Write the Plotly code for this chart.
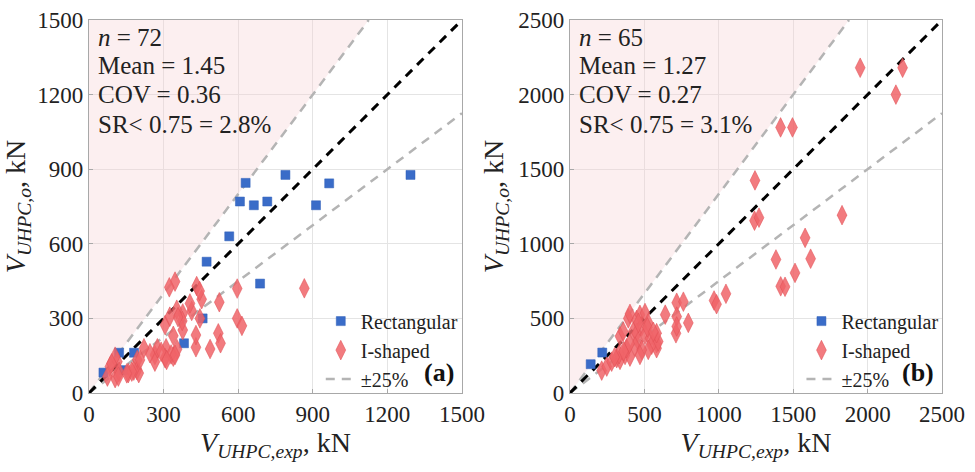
import plotly.graph_objects as go

# ---------------- data ----------------
# Panel (a)
a_rect_x = [58, 121, 181, 138, 382, 457, 473, 564, 688, 607, 663, 717, 630, 790, 913, 966, 1293]
a_rect_y = [82, 162, 162, 92, 200, 300, 528, 630, 440, 770, 755, 770, 845, 877, 755, 843, 877]
a_i_x = [866, 596, 596, 615, 524, 520, 529, 487, 430, 430, 446, 453, 433, 445, 413, 406, 377, 377, 375,
         353, 358, 346, 323, 339, 354, 339, 310, 306, 306, 330, 265, 265, 275, 245, 221, 194, 193, 200,
         180, 158, 114, 105, 84, 105, 74, 121, 172, 152, 118, 91, 205, 346, 325, 312, 290]
a_i_y = [421, 420, 300, 270, 365, 240, 200, 177, 184, 233, 300, 377, 430, 410, 330, 360, 320, 253, 290,
         335, 305, 448, 425, 230, 176, 146, 180, 140, 273, 155, 153, 126, 180, 160, 180, 133, 92, 80,
         90, 80, 126, 146, 106, 60, 66, 85, 86, 79, 66, 119, 133, 153, 307, 133, 166]

# Panel (b)
b_rect_x = [139, 217]
b_rect_y = [193, 271]
b_i_x = [1950, 2235, 2190, 1415, 1495, 1243, 1240, 1270, 1828, 1580, 1617, 1384, 1512, 1416, 1445, 1048,
         968, 985, 717, 762, 640, 717, 795, 712, 582, 582, 213, 247, 280, 314, 336, 370, 403, 336, 358,
         392, 403, 448, 470, 504, 425, 482, 526, 448, 459, 437, 504, 538, 549, 526, 482, 470, 593, 582,
         717, 380, 330, 300, 400, 360, 520, 460, 560]
b_i_y = [2180, 2180, 2000, 1780, 1780, 1425, 1155, 1175, 1192, 1040, 900, 895, 805, 715, 712, 665,
         620, 595, 605, 612, 525, 512, 470, 400, 334, 300, 150, 177, 210, 233, 222, 255, 244, 380, 412,
         500, 530, 490, 524, 536, 412, 446, 469, 401, 345, 311, 390, 367, 323, 289, 289, 255, 345, 401,
         446, 300, 260, 240, 330, 280, 440, 470, 410]

a_stats = ["<i>n</i> = 72", "Mean = 1.45", "COV = 0.36", "SR< 0.75 = 2.8%"]
b_stats = ["<i>n</i> = 65", "Mean = 1.27", "COV = 0.27", "SR< 0.75 = 3.1%"]
a_ticks = [0, 300, 600, 900, 1200, 1500]
b_ticks = [0, 500, 1000, 1500, 2000, 2500]
a_max = 1500
b_max = 2500
band = 0.75

FONT = "Liberation Serif"
BLUE = "#3a6cc8"
RED_FILL = "rgba(240,100,105,0.85)"
RED_LINE = "rgba(225,80,85,0.9)"
GRAY = "#b4b4b4"
DASH = "9px,7px"

fig = go.Figure()

panels = [
    ("x", "y", "legend", a_max, a_rect_x, a_rect_y, a_i_x, a_i_y),
    ("x2", "y2", "legend2", b_max, b_rect_x, b_rect_y, b_i_x, b_i_y),
]

for xa, ya, lg, top, rx, ry, ix, iy in panels:
    # shaded region (SR < 0.75)
    fig.add_trace(go.Scatter(x=[0, 0, top * band, 0], y=[0, top, top, 0], fill="toself",
                             fillcolor="rgba(246,205,210,0.33)", mode="none",
                             showlegend=False, hoverinfo="skip", xaxis=xa, yaxis=ya))
    # +/-25% lines
    fig.add_trace(go.Scatter(x=[0, top * band], y=[0, top], mode="lines",
                             line=dict(color=GRAY, width=2.5, dash=DASH),
                             showlegend=False, xaxis=xa, yaxis=ya))
    fig.add_trace(go.Scatter(x=[0, top], y=[0, top * band], mode="lines",
                             line=dict(color=GRAY, width=2.5, dash=DASH),
                             showlegend=False, xaxis=xa, yaxis=ya))
    # 1:1 line
    fig.add_trace(go.Scatter(x=[0, top], y=[0, top], mode="lines",
                             line=dict(color="black", width=3, dash=DASH),
                             showlegend=False, xaxis=xa, yaxis=ya))
    fig.add_trace(go.Scatter(x=rx, y=ry, mode="markers", name="Rectangular",
                             marker=dict(symbol="square", size=9, color=BLUE,
                                         line=dict(color="#2f5fb8", width=0.5)),
                             legend=lg, xaxis=xa, yaxis=ya))
    fig.add_trace(go.Scatter(x=ix, y=iy, mode="markers", name="I-shaped",
                             marker=dict(symbol="diamond-tall", size=14, color=RED_FILL,
                                         line=dict(color=RED_LINE, width=0.6)),
                             legend=lg, xaxis=xa, yaxis=ya))
    fig.add_trace(go.Scatter(x=[None], y=[None], mode="lines", name="±25%",
                             line=dict(color=GRAY, width=2.5, dash=DASH),
                             legend=lg, xaxis=xa, yaxis=ya))

axis_common = dict(showgrid=True, gridcolor="#e4e4e4", gridwidth=1, zeroline=False,
                   showline=True, linecolor="#a8a8a8", linewidth=1.2, mirror=True,
                   ticks="inside", ticklen=4, tickcolor="#a8a8a8", automargin=False,
                   tickfont=dict(family=FONT, size=23, color="#222"))

xtitle = "<i>V</i><sub><i>UHPC,exp</i></sub>, kN"
ytitle = "<i>V</i><sub><i>UHPC,o</i></sub>, kN"
tfont = dict(family=FONT, size=28, color="#222")

fig.update_layout(
    width=975, height=472,
    margin=dict(l=0, r=0, t=20, b=79),
    plot_bgcolor="white", paper_bgcolor="white",
    font=dict(family=FONT, color="#222"),
    xaxis=dict(domain=[0.0913, 0.4738], range=[0, a_max], tickvals=a_ticks, anchor="y",
               title=dict(text=xtitle, font=tfont, standoff=4), **axis_common),
    yaxis=dict(domain=[0, 1], range=[0, a_max], tickvals=a_ticks, anchor="x",
               title=dict(text=ytitle, font=tfont, standoff=6), **axis_common),
    xaxis2=dict(domain=[0.5846, 0.9662], range=[0, b_max], tickvals=b_ticks, anchor="y2",
                title=dict(text=xtitle, font=tfont, standoff=4), **axis_common),
    yaxis2=dict(domain=[0, 1], range=[0, b_max], tickvals=b_ticks, anchor="x2",
                title=dict(text=ytitle, font=tfont, standoff=6), **axis_common),
    legend=dict(x=0.329, y=0.245, xanchor="left", yanchor="top", bgcolor="rgba(0,0,0,0)",
                font=dict(family=FONT, size=20, color="#222"), tracegroupgap=0, itemwidth=30),
    legend2=dict(x=0.822, y=0.245, xanchor="left", yanchor="top", bgcolor="rgba(0,0,0,0)",
                 font=dict(family=FONT, size=20, color="#222"), tracegroupgap=0, itemwidth=30),
)

annotations = []
row_y = [0.954, 0.879, 0.799, 0.721]
for xr, yr, stats, label in [("x domain", "y domain", a_stats, "(a)"),
                             ("x2 domain", "y2 domain", b_stats, "(b)")]:
    for txt, yy in zip(stats, row_y):
        annotations.append(dict(xref=xr, yref=yr, x=0.018, y=yy, xanchor="left", yanchor="middle",
                                text=txt, showarrow=False, align="left",
                                font=dict(family=FONT, size=25, color="#222")))
    annotations.append(dict(xref=xr, yref=yr, x=0.985, y=0.01, xanchor="right", yanchor="bottom",
                            text="<b>" + label + "</b>", showarrow=False,
                            font=dict(family=FONT, size=26, color="#111")))
fig.update_layout(annotations=annotations)

fig.write_html("out.html")
